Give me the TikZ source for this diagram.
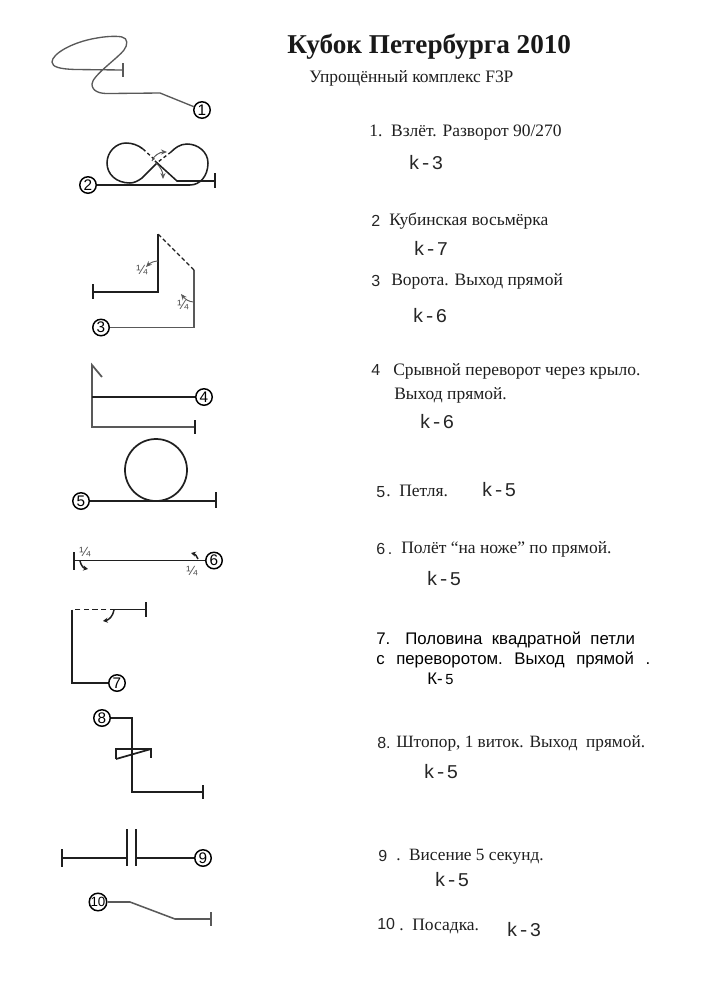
\documentclass[tikz,border=0pt]{standalone}
\usepackage{fontspec}
\usetikzlibrary{arrows.meta}
\setmainfont{Liberation Serif}
\newfontfamily\sansf{Liberation Sans}
\newfontfamily\monof{Liberation Mono}
\tikzset{
  x=0.75pt,y=-0.75pt,
  fig/.style={line width=1.3pt,color=black!88,line join=miter},
  figthin/.style={line width=1pt,color=black!65},
  num/.style={circle,draw=black,line width=1.1pt,fill=white,inner sep=0pt,minimum size=16.5*0.75pt,font=\sansf\fontsize{11.5}{12}\selectfont},
  tipa/.style={-{Stealth[length=4.5pt,width=3.8pt]},line width=0.7pt,color=black!65},
  tipb/.style={-{Stealth[length=3.6pt,width=3.8pt]},line width=1.1pt,color=black!88},
  quart/.style={font=\sansf\fontsize{10}{11}\selectfont,text=black!70,inner sep=0pt},
  title/.style={anchor=base west,inner sep=0pt,font=\bfseries\fontsize{20.4}{22}\selectfont,text=black!90},
  body/.style={anchor=base west,inner sep=0pt,font=\fontsize{13.1}{15}\selectfont,text=black!88},
  dig/.style={anchor=base west,inner sep=0pt,font=\sansf\fontsize{12}{14}\selectfont,text=black!85},
  arial/.style={anchor=base west,inner sep=0pt,font=\sansf\fontsize{12.6}{14}\selectfont,text=black},
  kval/.style={anchor=base west,inner sep=0pt,font=\monof\fontsize{14.6}{16}\selectfont,text=black!85},
}
\begin{document}
\begin{tikzpicture}
\useasboundingbox[fill=white] (0,0) rectangle (707,1000);
% --- number nodes
\node[num] (n1) at (202,110) {1};
\node[num] (n2) at (88,185) {2};
\node[num] (n3) at (101,327.5) {3};
\node[num] (n4) at (204,397) {4};
\node[num] (n5) at (81,501) {5};
\node[num] (n6) at (214,560.5) {6};
\node[num] (n7) at (117,683) {7};
\node[num] (n8) at (102,718) {8};
\node[num] (n9) at (203,858) {9};
\node[num,font=\sansf\fontsize{10}{11}\selectfont] (n10) at (98,902) {10};
% --- figure 1
\draw[figthin] (123,63) -- (123,77);
\draw[figthin] (123,70) -- (75,69.5) .. controls (60,69) and (52,67) .. (52,62)
  .. controls (52,54) and (72,42) .. (97,38) .. controls (108,36) and (118,36) .. (122,37)
  .. controls (128,38) and (128,45) .. (124,50)
  .. controls (118,58) and (92,76) .. (92,84) .. controls (92,91) and (99,94) .. (110,93.5)
  -- (160,93) -- (n1);
% --- figure 2
\draw[fig] (215,173) -- (215,188);
\draw[fig,line width=1.15pt] (n2) -- (190,185) .. controls (200,185) and (208,176) .. (208,163)
  .. controls (208,152) and (198,144) .. (187,144) .. controls (180,144) and (175,148) .. (171,152);
\draw[fig,line width=1pt,dash pattern=on 2.5pt off 2pt] (171,152) -- (158,162);
\draw[fig,line width=1.15pt] (157,163) -- (142,178) .. controls (138,181) and (134,183) .. (130,183)
  .. controls (116,183) and (107,174) .. (107,163) .. controls (107,152) and (116,143) .. (126,143)
  .. controls (132,143) and (138,145) .. (143,149);
\draw[fig,line width=1pt,dash pattern=on 2.5pt off 2pt] (143,149) -- (155,160);
\draw[fig,line width=1.15pt] (155,161) -- (177,181) -- (215,181);
\draw[tipa] (152,161) .. controls (153,156) and (160,152) .. (167,152);
\draw[tipa] (156,163) .. controls (160,166) and (163,172) .. (163,179);
% --- figure 3
\draw[fig] (93,284) -- (93,299);
\draw[figthin,line width=1.15pt] (n3) -- (194,327.5) -- (194,270);
\draw[fig,line width=0.85pt,dash pattern=on 3pt off 2pt] (194,270) -- (158,234);
\draw[fig] (158,234) -- (158,292) -- (93,292);
\draw[tipa] (158,261) .. controls (154,261) and (150,263) .. (146,267);
\draw[tipa] (194,302) .. controls (189,302) and (185,299) .. (181,294);
\node[quart] (q1) at (142,270) {¼};
\node[quart] (q2) at (183,305) {¼};
% --- figure 4
\draw[figthin,line width=1.3pt] (102,377) -- (92,365) -- (92,427) -- (195,427);
\draw[fig] (195,420) -- (195,434);
\draw[fig] (92,397) -- (n4);
% --- figure 5
\draw[fig] (156,470) circle (31);
\draw[fig] (n5) -- (216,501);
\draw[fig] (216,492) -- (216,508);
% --- figure 6
\draw[fig] (74,552) -- (74,570);
\draw[fig,line width=1.15pt] (74,560.5) -- (n6);
\draw[tipb] (80,561) .. controls (81,565) and (83,568) .. (88,569);
\draw[tipb] (198,559) .. controls (197,556) and (195,554) .. (191,553);
\node[quart] (q3) at (85,552) {¼};
\node[quart] (q4) at (192,571) {¼};
% --- figure 7
\draw[fig] (146,602) -- (146,617);
\draw[fig] (146,609.5) -- (115,609.5);
\draw[fig,dash pattern=on 4pt off 2.5pt] (115,609.5) -- (72,609.5);
\draw[fig] (72,609.5) -- (72,683) -- (n7);
\draw[tipb] (114,610) .. controls (113,616) and (109,620) .. (103,621);
% --- figure 8
\draw[fig] (n8) -- (132,718) -- (132,792) -- (203,792);
\draw[fig] (203,785) -- (203,799);
\draw[fig] (116,759) -- (116,749) -- (151,749) -- (151,758);
\draw[fig] (116,759) -- (151,749);
% --- figure 9
\draw[fig] (62,849) -- (62,867);
\draw[fig] (62,858) -- (127,858);
\draw[fig] (127,829) -- (127,866);
\draw[fig] (136,829) -- (136,866);
\draw[fig] (136,858) -- (n9);
% --- figure 10
\draw[figthin,line width=1.15pt] (n10) -- (130,902) -- (175,919) -- (211,919);
\draw[figthin,line width=2pt] (211,912) -- (211,926);
% --- texts
\node[title] (t0) at (287,53) {Кубок Петербурга 2010};
\node[body] (t00) at (309,82) {Упрощённый комплекс F3P};
\node[body] (t1) at (369,136) {1.\ \ Взлёт. Разворот 90/270};
\node[kval] (k1) at (408,169) {k-3};
\node[dig] (d2) at (371,226) {2};
\node[body] (t2) at (389,225) {Кубинская восьмёрка};
\node[kval] (k2) at (413,255) {k-7};
\node[dig] (d3) at (371,286) {3};
\node[body] (t3) at (391,285) {Ворота. Выход прямой};
\node[kval] (k3) at (412,322) {k-6};
\node[dig] (d4) at (371,375) {4};
\node[body] (t4) at (393,375) {Срывной переворот через крыло.};
\node[body] (t4b) at (394,399) {Выход прямой.};
\node[kval] (k4) at (419,428) {k-6};
\node[dig] (d5) at (376,497) {5};
\node[body] (t5) at (386,496) {.\ \ Петля.};
\node[kval] (k5) at (481,496) {k-5};
\node[dig] (d6) at (376,554) {6\,.};
\node[body] (t6) at (401,553) {Полёт “на ноже” по прямой.};
\node[kval] (k6) at (426,585) {k-5};
\node[arial] (d7) at (376,644) {7.};
\node[arial] (t7) at (405,644) {Половина\ \ квадратной\ \ петли};
\node[arial] (t7b) at (376,664) {с\ \ \hspace{1.7pt}переворотом.\ \ \hspace{1.7pt}Выход\ \ \hspace{1.7pt}прямой\ \ \hspace{1.7pt}.};
\node[arial] (k7) at (427,684) {К-\,{\fontsize{11}{12}\selectfont 5}};
\node[dig] (d8) at (377,748) {8.};
\node[body,font=\fontsize{12.95}{15}\selectfont] (t8) at (396,747) {Штопор, 1 виток. Выход\ \ прямой.};
\node[kval] (k8) at (423,778) {k-5};
\node[dig] (d9) at (378,861) {9};
\node[body,font=\fontsize{12.95}{15}\selectfont] (t9) at (396,860) {.\ \ Висение 5 секунд.};
\node[kval] (k9) at (434,886) {k-5};
\node[dig] (d10) at (377,929) {10};
\node[body] (t10) at (399,930) {.\ \ Посадка.};
\node[kval] (k10) at (506,936) {k-3};
\end{tikzpicture}
\end{document}
